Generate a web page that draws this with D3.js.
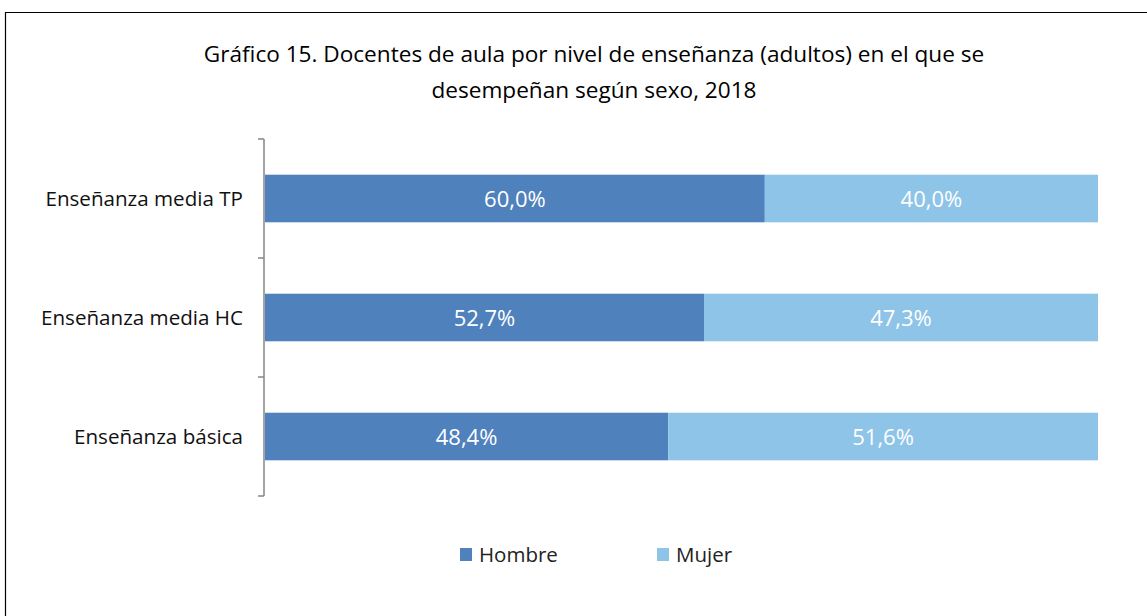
<!DOCTYPE html>
<html><head><meta charset="utf-8">
<script src="https://cdn.jsdelivr.net/npm/d3@7"></script>
<style>body{margin:0;background:#fff}</style>
</head><body>
<svg id="c" width="1147" height="616"></svg>
<script>
const categories = ["Enseñanza media TP", "Enseñanza media HC", "Enseñanza básica"];
const hombre = [60.0, 52.7, 48.4];
const mujer = [40.0, 47.3, 51.6];
const seriesNames = ["Hombre", "Mujer"];
const titleLines = ["Gráfico 15. Docentes de aula por nivel de enseñanza (adultos) en el que se", "desempeñan según sexo, 2018"];
const colors = ["#4F81BD", "#8EC4E8"];

(function(){
const svg = d3.select("#c");
const font = "'Open Sans', sans-serif";
svg.append("path").attr("d", "M5.5,616 V12.5 H1147").attr("fill","none").attr("stroke","#000").attr("stroke-width",1.2);

svg.selectAll("text.title").data(titleLines).join("text").attr("class","title")
  .attr("x", 594).attr("y", (d,i)=>62+i*36).attr("text-anchor","middle")
  .attr("font-family",font).attr("font-size",22.6).attr("fill","#000")
  .text(d=>d);

const pLeft = 265, pRight = 1098, pTop = 139, pBottom = 496;
const x = d3.scaleLinear().domain([0,100]).range([pLeft, pRight]);
const y = d3.scaleBand().domain(categories).range([pTop, pBottom]).paddingInner(0.6).paddingOuter(0.3);
const yTicks = d3.scaleBand().domain(categories).range([pTop,pBottom]);

const data = categories.map((c,i)=>({c, vals:[hombre[i], mujer[i]]}));
data.forEach(d=>{
  let acc=0;
  d.vals.forEach((v,k)=>{
    const x0=x(acc), x1=x(acc+v);
    svg.append("rect").attr("x",x0).attr("y",y(d.c)).attr("width",x1-x0).attr("height",y.bandwidth())
      .attr("fill",colors[k]);
    svg.append("text").attr("x",(x0+x1)/2).attr("y",y(d.c)+y.bandwidth()/2+8).attr("text-anchor","middle")
      .attr("font-family",font).attr("font-size",22).attr("fill","#fff").text(v.toFixed(1).replace(".",",")+"%");
    acc+=v;
  });
});

const ax = svg.append("g").attr("transform",`translate(${pLeft-1},0)`);
ax.append("line").attr("x1",0).attr("x2",0).attr("y1",pTop).attr("y2",pBottom).attr("stroke","#868686").attr("stroke-width",1.5);
const tickYs = categories.map(c=>yTicks(c)).concat([pBottom]);
ax.selectAll("line.t").data(tickYs).join("line").attr("class","t").attr("x1",-6).attr("x2",0).attr("y1",d=>d).attr("y2",d=>d).attr("stroke","#868686").attr("stroke-width",1.5);
svg.selectAll("text.cat").data(categories).join("text").attr("class","cat")
  .attr("x",243).attr("y",c=>y(c)+y.bandwidth()/2+7).attr("text-anchor","end")
  .attr("font-family",font).attr("font-size",20.6).attr("fill","#111").text(c=>c);

const legX=[460,657];
seriesNames.forEach((s,k)=>{
  svg.append("rect").attr("x",legX[k]).attr("y",548).attr("width",12).attr("height",13).attr("fill",colors[k]);
  svg.append("text").attr("x",legX[k]+19).attr("y",562).attr("font-family",font).attr("font-size",20.5).attr("fill","#222").text(s);
});
})();
</script>
</body></html>
